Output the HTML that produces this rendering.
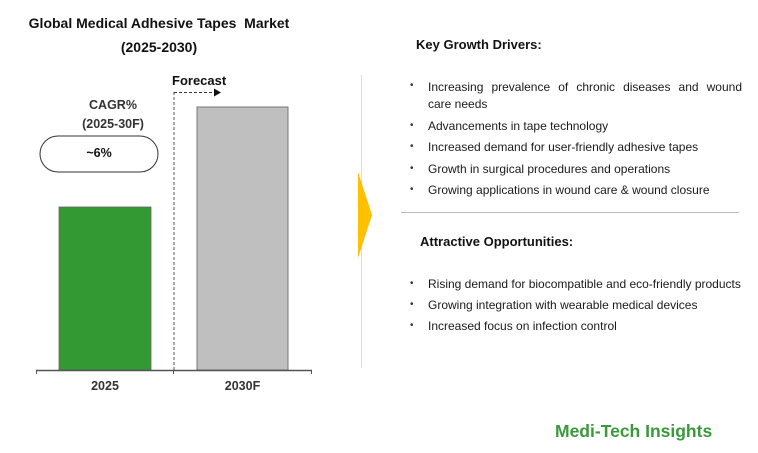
<!DOCTYPE html>
<html><head><style>
body{margin:0;width:758px;height:453px;background:#fff;font-family:"Liberation Sans",sans-serif;position:relative;overflow:hidden}
.a{position:absolute;white-space:nowrap}
.b{font-weight:bold}
.t{font-size:12px;color:#1a1a1a}
.dot{position:absolute;font-size:10px;color:#333}
</style></head><body>
<div class="a b" style="left:0;width:318px;text-align:center;top:15px;font-size:14px;color:#111">Global Medical Adhesive Tapes &nbsp;Market</div>
<div class="a b" style="left:0;width:318px;text-align:center;top:39px;font-size:14px;color:#111">(2025-2030)</div>
<svg class="a" style="left:0;top:0" width="758" height="453">
<rect x="59" y="207" width="92" height="163" fill="#339933" stroke="#666" stroke-width="0.8"/>
<rect x="197" y="107" width="91" height="263" fill="#bfbfbf" stroke="#777" stroke-width="1"/>
<line x1="36" y1="370.5" x2="312" y2="370.5" stroke="#555" stroke-width="1.5"/>
<line x1="36.5" y1="370" x2="36.5" y2="374" stroke="#555"/>
<line x1="173.5" y1="370" x2="173.5" y2="374" stroke="#555"/>
<line x1="311.5" y1="370" x2="311.5" y2="374" stroke="#555"/>
<line x1="174" y1="92" x2="174" y2="370" stroke="#555" stroke-dasharray="3,2"/>
<line x1="174" y1="92.5" x2="214" y2="92.5" stroke="#333" stroke-dasharray="3,2"/>
<polygon points="214,88.5 221,92.5 214,96.5" fill="#111"/>
<rect x="40" y="136" width="118" height="36" rx="18" fill="#fff" stroke="#333" stroke-width="1"/>
<line x1="361.5" y1="75" x2="361.5" y2="368" stroke="#ddd"/>
<polygon points="358,172 372,215 358,258" fill="#ffc000"/>
<line x1="401" y1="212.5" x2="739" y2="212.5" stroke="#bbb"/>
</svg>
<div class="a b" style="left:172px;top:73px;font-size:13px;color:#111">Forecast</div>
<div class="a b" style="left:40px;width:146px;text-align:center;top:96px;font-size:12.5px;color:#333;line-height:19px">CAGR%<br>(2025-30F)</div>
<div class="a b" style="left:40px;width:118px;text-align:center;top:146px;font-size:12.5px;color:#111">~6%</div>
<div class="a b" style="left:59px;width:92px;text-align:center;top:379px;font-size:12.5px;color:#333">2025</div>
<div class="a b" style="left:197px;width:91px;text-align:center;top:379px;font-size:12.5px;color:#333">2030F</div>

<div class="a b" style="left:416px;top:37px;font-size:13px;color:#111">Key Growth Drivers:</div>
<div class="a t" style="left:428px;top:79px;width:314px;white-space:normal;text-align:justify;text-align-last:justify;line-height:17px">Increasing prevalence of chronic diseases and wound</div>
<div class="a t" style="left:428px;top:96px;line-height:17px">care needs</div>
<div class="a t" style="left:428px;top:119px">Advancements in tape technology</div>
<div class="a t" style="left:428px;top:140px">Increased demand for user-friendly adhesive tapes</div>
<div class="a t" style="left:428px;top:162px">Growth in surgical procedures and operations</div>
<div class="a t" style="left:428px;top:183px">Growing applications in wound care &amp; wound closure</div>
<div class="dot" style="left:410px;top:80px">•</div>
<div class="dot" style="left:410px;top:120px">•</div>
<div class="dot" style="left:410px;top:141px">•</div>
<div class="dot" style="left:410px;top:163px">•</div>
<div class="dot" style="left:410px;top:184px">•</div>

<div class="a b" style="left:420px;top:234px;font-size:13px;color:#111">Attractive Opportunities:</div>
<div class="a t" style="left:428px;top:277px">Rising demand for biocompatible and eco-friendly products</div>
<div class="a t" style="left:428px;top:298px">Growing integration with wearable medical devices</div>
<div class="a t" style="left:428px;top:319px">Increased focus on infection control</div>
<div class="dot" style="left:410px;top:278px">•</div>
<div class="dot" style="left:410px;top:299px">•</div>
<div class="dot" style="left:410px;top:320px">•</div>

<div class="a b" style="left:555px;top:421px;font-size:17.5px;color:#3a9a3a">Medi-Tech Insights</div>
</body></html>
